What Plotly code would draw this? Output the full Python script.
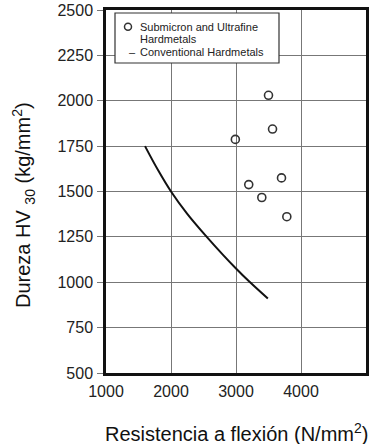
import plotly.graph_objects as go

# Submicron and ultrafine hardmetals (individual grades)
fine_strength = [3500, 3562, 2990, 3196, 3397, 3700, 3782]
fine_hardness = [2030, 1844, 1787, 1538, 1467, 1575, 1361]

# Conventional hardmetals (trend curve)
conv_strength = [1600, 1800, 2000, 2250, 2550, 2800, 3000, 3200, 3490]
conv_hardness = [1750, 1618, 1500, 1377, 1250, 1151, 1076, 1005, 910]

x_ticks = [1000, 2000, 3000, 4000]
y_ticks = [500, 750, 1000, 1250, 1500, 1750, 2000, 2250, 2500]

FONT = "Liberation Sans, Arial, sans-serif"

fig = go.Figure()
fig.add_trace(go.Scatter(
    x=conv_strength, y=conv_hardness, mode="lines",
    line=dict(color="#111111", width=2, shape="spline", smoothing=1.0),
    name="Conventional Hardmetals", showlegend=False,
))
fig.add_trace(go.Scatter(
    x=fine_strength, y=fine_hardness, mode="markers",
    marker=dict(symbol="circle-open", size=8, color="#333333",
                line=dict(width=1.6, color="#333333")),
    name="Submicron and Ultrafine Hardmetals", showlegend=False,
))

L, R, T, B = 106, 10, 10, 71
W, H = 376, 444
pw, ph = W - L - R, H - T - B


def px(xp):
    return (xp - L) / pw


def py(yp):
    return (H - B - yp) / ph


annotations = [
    # axis titles
    dict(text="Dureza HV <sub>30</sub> (kg/mm<sup>2</sup>)", x=px(23), y=py(205),
         xref="paper", yref="paper", textangle=-90, showarrow=False,
         xanchor="center", yanchor="middle",
         font=dict(family=FONT, size=20, color="#111111")),
    dict(text="Resistencia a flexión (N/mm<sup>2</sup>)", x=px(236), y=py(433),
         xref="paper", yref="paper", showarrow=False,
         xanchor="center", yanchor="middle",
         font=dict(family=FONT, size=20, color="#111111")),
]

# key box contents
key_lines = [("Submicron and Ultrafine", 26.7), ("Hardmetals", 39.2),
             ("Conventional Hardmetals", 51.7)]
for txt, yy in key_lines:
    annotations.append(dict(text=txt, x=px(138), y=py(yy), xref="paper", yref="paper",
                            showarrow=False, xanchor="left", yanchor="middle",
                            font=dict(family=FONT, size=11, color="#222222")))
annotations.append(dict(text="–", x=px(132), y=py(51.7), xref="paper", yref="paper",
                        showarrow=False, xanchor="center", yanchor="middle",
                        font=dict(family=FONT, size=11, color="#222222")))

shapes = [
    dict(type="rect", xref="paper", yref="paper", x0=px(115), x1=px(279),
         y0=py(63), y1=py(13), line=dict(color="#333333", width=1.2),
         fillcolor="white", layer="above"),
    dict(type="circle", xref="paper", yref="paper", x0=px(124.5), x1=px(131.5),
         y0=py(30.2), y1=py(23.2), line=dict(color="#333333", width=1.5),
         layer="above"),
]

fig.update_layout(
    width=W, height=H,
    margin=dict(l=L, r=R, t=T, b=B, autoexpand=False),
    paper_bgcolor="white", plot_bgcolor="white",
    font=dict(family=FONT, color="#222222"),
    annotations=annotations, shapes=shapes,
    showlegend=False,
)
fig.update_xaxes(
    range=[1000, 5000], tickvals=x_ticks, ticks="",
    tickfont=dict(size=16, family=FONT, color="#222222"),
    showgrid=True, gridcolor="#777777", gridwidth=1,
    showline=True, linecolor="#111111", linewidth=2.5, mirror=True,
    zeroline=False, ticklabelstandoff=2, automargin=False,
)
fig.update_yaxes(
    range=[500, 2500], tickvals=y_ticks, ticks="outside", ticklen=6,
    tickcolor="#777777", tickwidth=1,
    tickfont=dict(size=16, family=FONT, color="#222222"),
    showgrid=True, gridcolor="#777777", gridwidth=1,
    showline=True, linecolor="#111111", linewidth=2.5, mirror=True,
    zeroline=False, automargin=False, ticklabelstandoff=1,
)

fig.write_html("out.html")
